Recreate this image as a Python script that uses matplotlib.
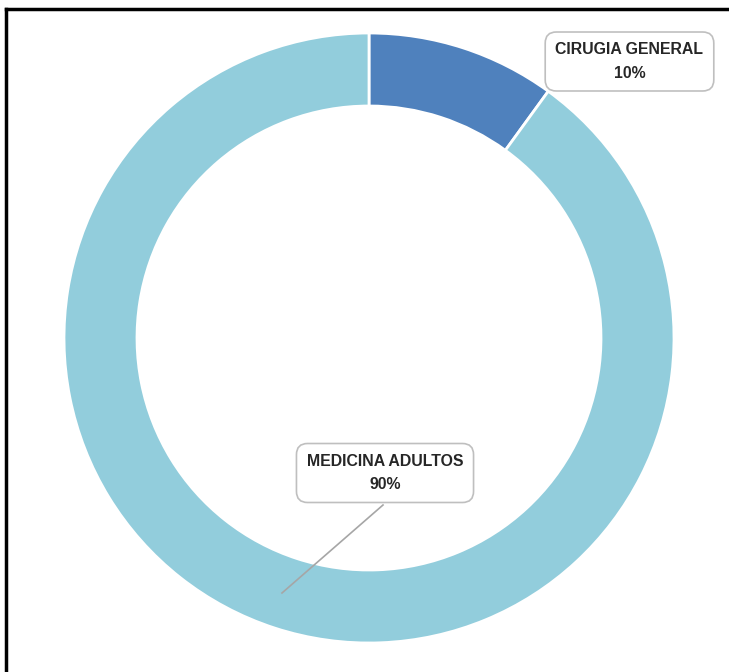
import matplotlib.pyplot as plt

categories = ['CIRUGIA GENERAL', 'MEDICINA ADULTOS']
values = [10, 90]
colors = ['#4F81BD', '#92CDDC']

W, H = 729, 672
fig = plt.figure(figsize=(W / 100, H / 100), dpi=100)
ax = fig.add_axes([0, 0, 1, 1])

# Donut, working in pixel units (y measured from the bottom)
cx, cy = 369, H - 338
r_out = 305
ring = 73
wedges, _ = ax.pie(values, colors=colors, startangle=90, counterclock=False,
                   center=(cx, cy), radius=r_out, frame=True,
                   wedgeprops=dict(width=ring, edgecolor='white', linewidth=2))
ax.set_xlim(0, W)
ax.set_ylim(0, H)
ax.set_aspect('equal')
ax.axis('off')

total = sum(values)
box = dict(boxstyle='round,pad=0.65,rounding_size=0.7', fc='white', ec='#BFBFBF', lw=1.2)
font = dict(family=['Liberation Sans', 'DejaVu Sans'], fontweight='bold', fontsize=11.4, color='#262626')

# Label positions in pixels
label_pos = [(629.5, H - 61.5), (385, H - 473)]
for cat, val, (lx, ly) in zip(categories, values, label_pos):
    ax.text(lx, ly, f'{cat}\n{val / total:.0%}', ha='center', va='center',
            linespacing=1.7, bbox=box, zorder=5, **font)

# Leader line for the large slice
ax.plot([383, 282], [H - 505, H - 593], color='#A6A6A6', lw=1.2, zorder=4)

# Border from the screenshot crop
ax.plot([6, W], [H - 9, H - 9], color='black', lw=2.5, clip_on=False)
ax.plot([6, 6], [H - 9, 0], color='black', lw=2.5, clip_on=False)

fig.savefig('out.png', dpi=100)
